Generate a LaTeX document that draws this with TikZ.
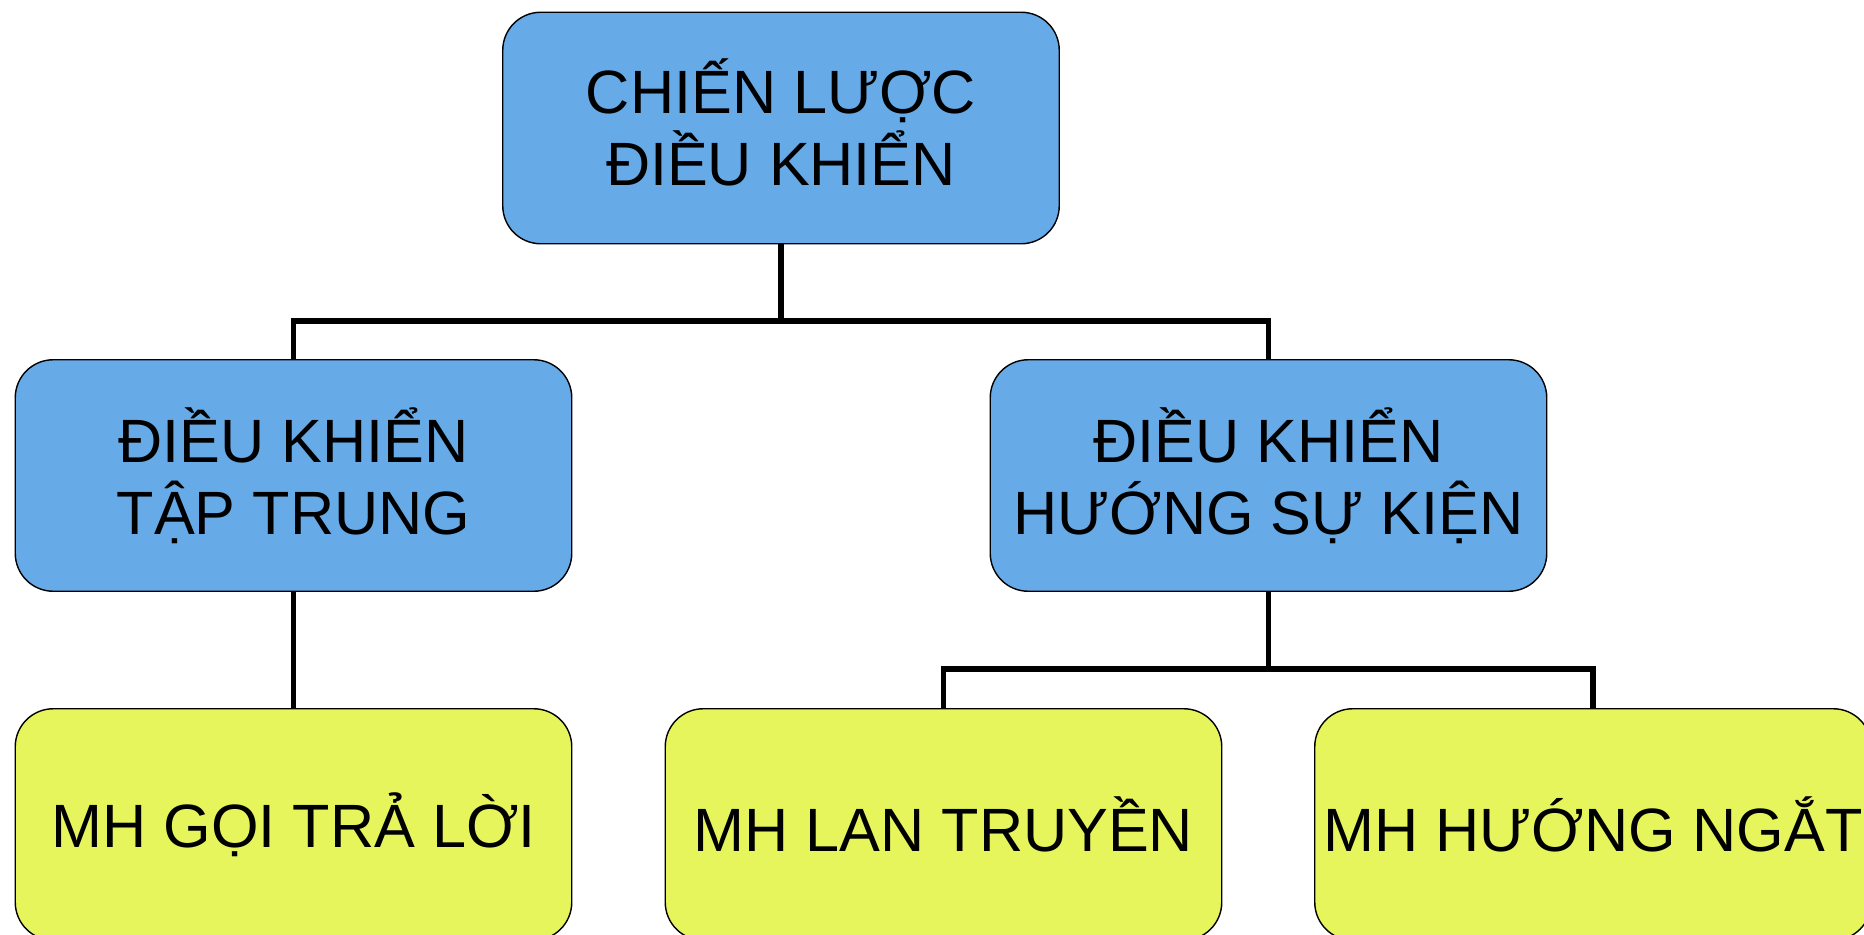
\documentclass[tikz,border=0pt]{standalone}
\usepackage{fontspec}
\setmainfont{Liberation Sans}
\definecolor{boxblue}{RGB}{102,170,232}
\definecolor{boxyellow}{RGB}{231,245,92}

\begin{document}
\begin{tikzpicture}[
    box/.style={
        draw,
        line width=0.8pt,
        rounded corners=0.76cm,
        minimum width=11.13cm,
        minimum height=4.63cm,
        align=center,
        inner sep=0pt,
        font=\fontsize{34.8}{41}\selectfont
    },
    level1/.style={
        box,
        fill=boxblue
    },
    level2/.style={
        box,
        fill=boxyellow
    },
    link/.style={
        line width=3.2pt
    }
]
\useasboundingbox (0,0) rectangle (37.28,-18.7);

%%%%%%%%%%%%%%%%%%%%%%%%
% Level 0 and 1
%%%%%%%%%%%%%%%%%%%%%%%%

\node[level1, text depth=0.24cm] (root) at (15.62,-2.56) {CHIẾN LƯỢC\\ĐIỀU KHIỂN};
\node[level1] (central) at (5.87,-9.51) {ĐIỀU KHIỂN\\TẬP TRUNG};
\node[level1] (event) at (25.37,-9.51) {ĐIỀU KHIỂN\\HƯỚNG SỰ KIỆN};

% --- Split points ---
\coordinate (split1) at (15.62,-6.42);
\coordinate (split2) at (25.37,-13.38);

\draw[link] (root.south) -- (split1);
\draw[link] (central.north) |- (split1) -| (event.north);

%%%%%%%%%%%%%%%%%%%%%%%%
% Level 2
%%%%%%%%%%%%%%%%%%%%%%%%

\node[level2] (callret) at (5.87,-16.49) {MH GỌI TRẢ LỜI};
\node[level2] (broadcast) at (18.87,-16.49) {MH LAN TRUYỀN};
\node[level2] (interrupt) at (31.86,-16.49) {MH HƯỚNG NGẮT};

\draw[link] (central.south) -- (callret.north);
\draw[link] (event.south) -- (split2);
\draw[link] (broadcast.north) |- (split2) -| (interrupt.north);

\end{tikzpicture}
\end{document}
